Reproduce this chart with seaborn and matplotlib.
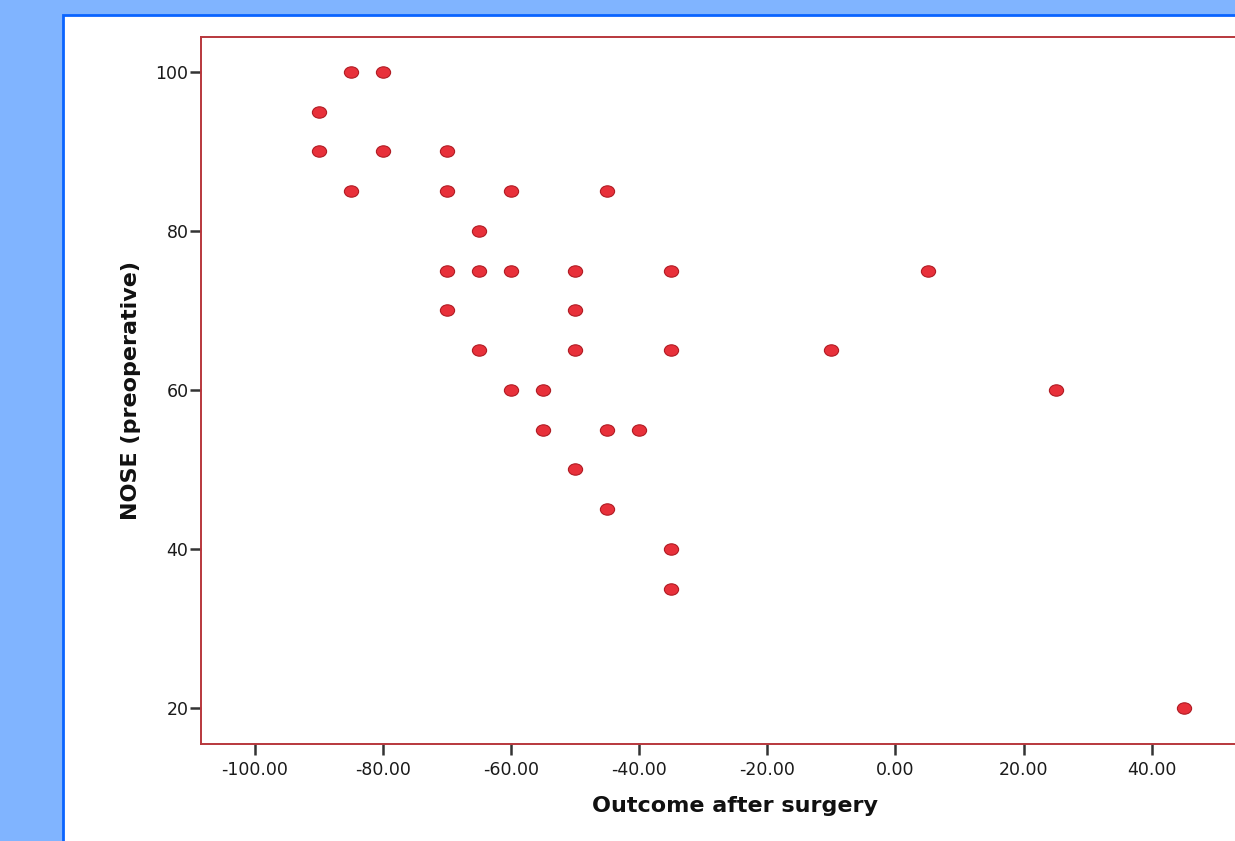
import numpy as np
import matplotlib
matplotlib.use("Agg")
import matplotlib.pyplot as plt
from matplotlib.path import Path
from matplotlib.patches import Rectangle
import seaborn as sns
import pandas as pd

# values
outcome = [-85, -80, -90, -90, -80, -70, -85, -70, -60, -45,
           -65, -70, -65, -60, -50, -35, 5, -70, -50, -65,
           -50, -35, -10, -60, -55, 25, -55, -45, -40, -50,
           -45, -35, -35, 45]
nose = [100, 100, 95, 90, 90, 90, 85, 85, 85, 85,
        80, 75, 75, 75, 75, 75, 75, 70, 70, 65,
        65, 65, 65, 60, 60, 60, 55, 55, 55, 50,
        45, 40, 35, 20]
xticks = [-100, -80, -60, -40, -20, 0, 20, 40]
yticks = [20, 40, 60, 80, 100]

df = pd.DataFrame({"Outcome after surgery": outcome, "NOSE (preoperative)": nose})

sns.set_style("white")
plt.rcParams["font.family"] = ["DejaVu Sans"]

fig = plt.figure(figsize=(12.35, 8.41), dpi=100)
fig.patch.set_facecolor("#80b4ff")
W, H = 1235, 841
# white panel with blue border
fig.patches.append(Rectangle((63 / W, -0.05), 1.1, 1 - 15 / H + 0.05,
                             transform=fig.transFigure, facecolor="white",
                             edgecolor="#0a64ff", linewidth=2, zorder=-10))

ax = fig.add_axes([201 / W, 97 / H, (1260 - 201) / W, (744 - 37) / H])
ax.set_facecolor("white")

ell = Path.unit_circle().transformed(matplotlib.transforms.Affine2D().scale(1.0, 0.8))
sns.scatterplot(data=df, x="Outcome after surgery", y="NOSE (preoperative)", ax=ax,
                marker=ell, s=105, color="#e8303a", edgecolor="#b01c24", linewidth=0.8,
                zorder=3)

ax.set_xlim(-108.4, 56.9)
ax.set_ylim(15.45, 104.4)
ax.set_xticks(xticks)
ax.set_xticklabels([f"{v:.2f}" for v in xticks])
ax.set_yticks(yticks)
ax.set_yticklabels([str(v) for v in yticks])

for side in ["left", "bottom", "top", "right"]:
    ax.spines[side].set_color("#b8373c")
    ax.spines[side].set_linewidth(1.4)

ax.tick_params(axis="both", which="major", direction="out", length=8, width=1.8,
               color="#333333", labelsize=12.5, labelcolor="#1a1a1a",
               bottom=True, left=True)
ax.tick_params(axis="x", pad=4)
ax.tick_params(axis="y", pad=1)

ax.set_xlabel("Outcome after surgery", fontsize=16, fontweight="bold", color="#111111")
ax.set_ylabel("NOSE (preoperative)", fontsize=16, fontweight="bold", color="#111111")
ax.xaxis.label.set_va("center")
ax.yaxis.label.set_va("center")
ax.xaxis.set_label_coords((735 - 201) / 1059, (744 - 806) / 707)
ax.yaxis.set_label_coords((131 - 201) / 1059, 0.5)

fig.savefig("out.png", dpi=100, facecolor=fig.get_facecolor())
